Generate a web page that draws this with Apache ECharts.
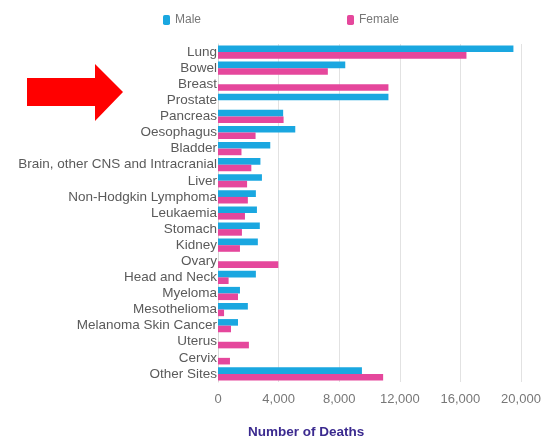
<!DOCTYPE html>
<html>
<head>
<meta charset="utf-8">
<script src="https://cdn.jsdelivr.net/npm/echarts@6/dist/echarts.min.js"></script>
<style>
  html, body { margin: 0; padding: 0; background: #ffffff; }
  #chart { width: 558px; height: 440px; }
</style>
</head>
<body>
<div id="chart"></div>
<script>
// Cancer deaths by site, split by sex
const sites = [
  'Lung', 'Bowel', 'Breast', 'Prostate', 'Pancreas', 'Oesophagus', 'Bladder',
  'Brain, other CNS and Intracranial', 'Liver', 'Non-Hodgkin Lymphoma', 'Leukaemia',
  'Stomach', 'Kidney', 'Ovary', 'Head and Neck', 'Myeloma', 'Mesothelioma',
  'Melanoma Skin Cancer', 'Uterus', 'Cervix', 'Other Sites'
];
const maleDeaths = [
  19500, 8400, 0, 11250, 4300, 5100, 3450,
  2800, 2900, 2500, 2570,
  2760, 2630, 0, 2500, 1450, 1970,
  1320, 0, 0, 9500
];
const femaleDeaths = [
  16400, 7250, 11250, 0, 4330, 2480, 1550,
  2200, 1920, 1970, 1780,
  1580, 1450, 3980, 700, 1320, 400,
  860, 2040, 790, 10900
];
const deathTicks = [0, 4000, 8000, 12000, 16000, 20000];

const chart = echarts.init(document.getElementById('chart'));
chart.setOption({
  animation: false,
  textStyle: { fontFamily: 'Liberation Sans, Arial, sans-serif' },
  legend: {
    left: 158,
    top: 9,
    itemWidth: 7,
    itemHeight: 10,
    itemGap: 146,
    icon: 'roundRect',
    textStyle: { color: '#777', fontSize: 12 },
    data: ['Male', 'Female']
  },
  grid: { left: 218, right: 37, top: 44, bottom: 58 },
  xAxis: {
    type: 'value',
    min: deathTicks[0],
    max: deathTicks[deathTicks.length - 1],
    interval: deathTicks[1] - deathTicks[0],
    axisLine: { show: false },
    axisTick: { show: false },
    splitLine: { lineStyle: { color: '#e2e2e2' } },
    axisLabel: {
      color: '#777',
      fontSize: 13,
      margin: 11,
      formatter: v => v.toLocaleString('en-US')
    }
  },
  yAxis: {
    type: 'category',
    inverse: true,
    data: sites,
    axisLine: { show: true, lineStyle: { color: '#d8d8d8' } },
    axisTick: { show: false },
    axisLabel: { color: '#5a5a5a', fontSize: 13.5, margin: 1, interval: 0 }
  },
  series: [
    {
      name: 'Male',
      type: 'bar',
      data: maleDeaths,
      itemStyle: { color: '#1aa7e0' },
      barGap: '0%',
      barCategoryGap: '18%'
    },
    {
      name: 'Female',
      type: 'bar',
      data: femaleDeaths,
      itemStyle: { color: '#e5479c' },
      barGap: '0%',
      barCategoryGap: '18%'
    }
  ],
  graphic: [
    {
      type: 'text',
      left: 248,
      top: 425,
      style: {
        text: 'Number of Deaths',
        fill: '#3b2a8f',
        font: 'bold 13.5px Liberation Sans, Arial, sans-serif'
      }
    },
    {
      type: 'polygon',
      shape: {
        points: [[27, 78], [95, 78], [95, 64], [123, 92], [95, 121], [95, 106], [27, 106]]
      },
      style: { fill: '#ff0000' }
    }
  ]
});
</script>
</body>
</html>
